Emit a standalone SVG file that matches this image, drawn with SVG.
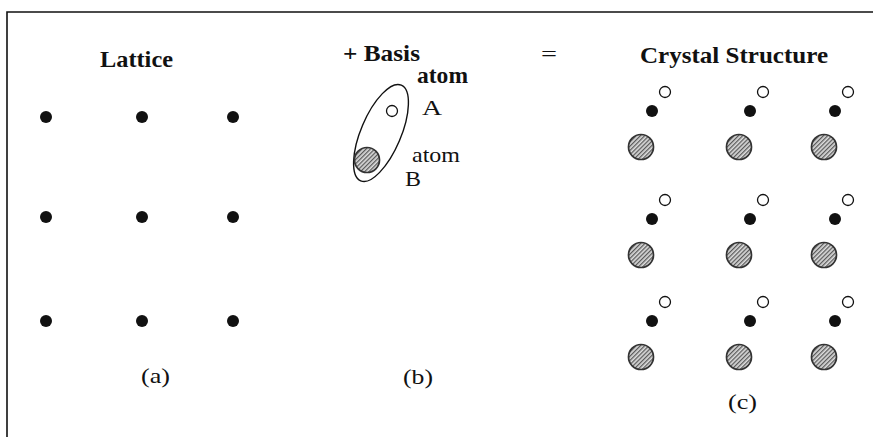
<svg xmlns="http://www.w3.org/2000/svg" width="873" height="437" viewBox="0 0 873 437">
<defs>
<pattern id="hatch" width="3" height="3" patternUnits="userSpaceOnUse" patternTransform="rotate(45)">
<rect width="3" height="3" fill="#dcdcdc"/>
<line x1="0.7" y1="0" x2="0.7" y2="3" stroke="#444" stroke-width="1.1"/>
</pattern>
<circle id="dot" r="6" fill="#111"/>
<circle id="open" r="5.5" fill="#fff" stroke="#111" stroke-width="1.3"/>
<circle id="big" r="12.5" fill="url(#hatch)" stroke="#333" stroke-width="1.7"/>
<g id="cell">
<use href="#open" x="24" y="0"/>
<use href="#dot" x="11" y="19"/>
<use href="#big" x="0" y="55"/>
</g>
</defs>
<style>
text{font-family:'Liberation Serif','Times New Roman',Times,serif;fill:#111}
.b{font-weight:bold;font-size:23px}
.n{font-size:22px}
</style>
<rect width="873" height="437" fill="#fff"/>
<path d="M7 437 V12 H873" fill="none" stroke="#111" stroke-width="1.6"/>

<g id="lattice">
<text class="b" font-family="Liberation Serif" x="100" y="67" textLength="73" lengthAdjust="spacingAndGlyphs">Lattice</text>
<use href="#dot" x="46" y="117"/><use href="#dot" x="142" y="117"/><use href="#dot" x="233" y="117"/>
<use href="#dot" x="46" y="217"/><use href="#dot" x="142" y="217"/><use href="#dot" x="233" y="217"/>
<use href="#dot" x="46" y="321"/><use href="#dot" x="142" y="321"/><use href="#dot" x="233" y="321"/>
<text class="n" font-family="Liberation Serif" x="141" y="383" textLength="29" lengthAdjust="spacingAndGlyphs">(a)</text>
</g>

<g id="basis">
<text class="b" font-family="Liberation Serif" x="343" y="61" textLength="77" lengthAdjust="spacingAndGlyphs">+ Basis</text>
<text class="b" font-family="Liberation Serif" x="417" y="83" textLength="51" lengthAdjust="spacingAndGlyphs">atom</text>
<ellipse cx="381" cy="133" rx="20" ry="52" transform="rotate(23 381 133)" fill="none" stroke="#111" stroke-width="1.4"/>
<use href="#open" x="392" y="111"/>
<use href="#big" x="367" y="160"/>
<text class="n" font-family="Liberation Serif" x="422" y="115" textLength="20" lengthAdjust="spacingAndGlyphs">A</text>
<text class="n" font-family="Liberation Serif" x="412" y="162" textLength="48" lengthAdjust="spacingAndGlyphs">atom</text>
<text class="n" font-family="Liberation Serif" x="405" y="186" textLength="16" lengthAdjust="spacingAndGlyphs">B</text>
<text class="n" font-family="Liberation Serif" x="403" y="384" textLength="30" lengthAdjust="spacingAndGlyphs">(b)</text>
</g>

<g id="equals">
<text class="n" font-family="Liberation Serif" x="541" y="61" textLength="16" lengthAdjust="spacingAndGlyphs">=</text>
</g>

<g id="crystal">
<text class="b" font-family="Liberation Serif" x="640" y="63" textLength="188" lengthAdjust="spacingAndGlyphs">Crystal Structure</text>
<use href="#cell" x="641" y="92"/><use href="#cell" x="739" y="92"/><use href="#cell" x="824" y="92"/>
<use href="#cell" x="641" y="200"/><use href="#cell" x="739" y="200"/><use href="#cell" x="824" y="200"/>
<use href="#cell" x="641" y="302"/><use href="#cell" x="739" y="302"/><use href="#cell" x="824" y="302"/>
<text class="n" font-family="Liberation Serif" x="728" y="409" textLength="29" lengthAdjust="spacingAndGlyphs">(c)</text>
</g>
</svg>
